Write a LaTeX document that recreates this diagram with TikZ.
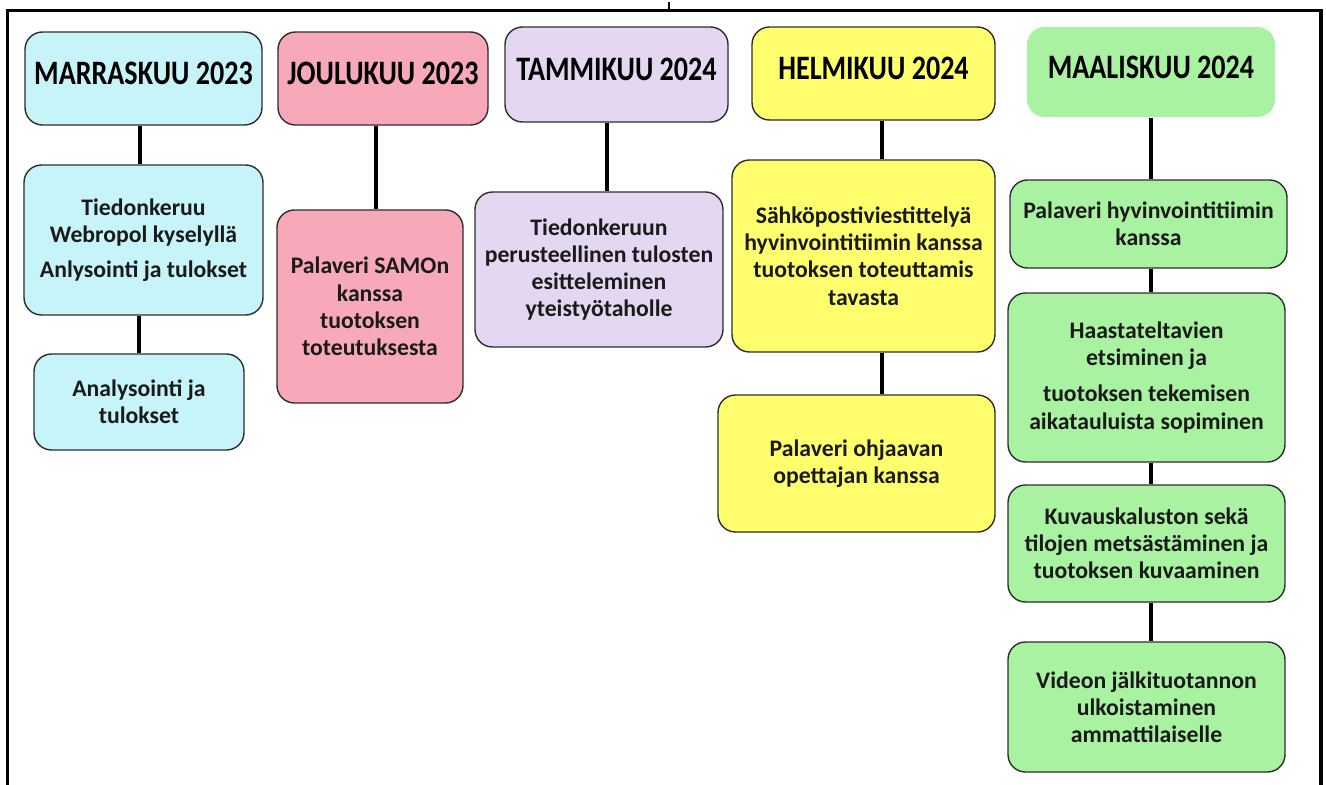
\documentclass[tikz,border=0pt]{standalone}
\usepackage{fontspec}
\setmainfont{Carlito}
\newfontfamily\headfont[FakeStretch=0.82]{Carlito}
\definecolor{novcyan}{HTML}{C6F4F8}
\definecolor{decpink}{HTML}{F7A9BA}
\definecolor{janlilac}{HTML}{E4D7F2}
\definecolor{febyellow}{HTML}{FFFF6E}
\definecolor{margreen}{HTML}{A9F2A1}
\definecolor{boxline}{HTML}{2E2E2E}
\definecolor{txt}{HTML}{1A1A1A}
\tikzset{>=latex}

\begin{document}
\begin{tikzpicture}[scale=1, every node/.style={scale=1}, font=\bfseries\fontsize{13.5}{15.5}\selectfont,
		box/.style={draw=boxline, line width=0.8pt, rounded corners=3.5mm, align=center, text=txt, inner sep=2pt},
		head/.style={box, text=black, text depth=0.2cm, font=\headfont\bfseries\fontsize{19.5}{21}\selectfont},
		link/.style={line width=1.8pt}]
		\useasboundingbox (0,0) rectangle (26.52,-15.7);
		
		% frame
		\draw[line width=1.8pt] (0.15,-15.7) -- (0.15,-0.21) -- (26.42,-0.21) -- (26.42,-15.7);
		\draw[line width=1.2pt] (13.38,-0.04) -- (13.38,-0.21);
		
		% marraskuu
		\node[head, fill=novcyan, minimum width=4.74cm, minimum height=1.86cm] (marA) at (2.87,-1.57) {MARRASKUU 2023};
		\node[box, fill=novcyan, minimum width=4.78cm, minimum height=3cm] (marB) at (2.87,-4.8) {Tiedonkeruu\\ Webropol kyselyllä\\[4pt] Anlysointi ja tulokset};
		\node[box, fill=novcyan, minimum width=4.2cm, minimum height=1.92cm] (marC) at (2.78,-8.04) {Analysointi ja\\ tulokset};
		
		% joulukuu
		\node[head, fill=decpink, minimum width=4.2cm, minimum height=1.86cm] (jouA) at (7.66,-1.57) {JOULUKUU 2023};
		\node[box, fill=decpink, minimum width=3.72cm, minimum height=3.86cm] (jouB) at (7.4,-6.13) {Palaveri SAMOn\\ kanssa\\ tuotoksen\\ toteutuksesta};
		
		% tammikuu
		\node[head, fill=janlilac, minimum width=4.46cm, minimum height=1.9cm] (tamA) at (12.33,-1.49) {TAMMIKUU 2024};
		\node[box, fill=janlilac, minimum width=4.96cm, minimum height=3.1cm] (tamB) at (11.98,-5.39) {Tiedonkeruun\\ perusteellinen tulosten\\ esitteleminen\\ yteistyötaholle};
		
		% helmikuu
		\node[head, fill=febyellow, minimum width=4.86cm, minimum height=1.86cm] (helA) at (17.47,-1.47) {HELMIKUU 2024};
		\node[box, fill=febyellow, minimum width=5.26cm, minimum height=3.84cm] (helB) at (17.27,-5.12) {Sähköpostiviestittelyä\\ hyvinvointitiimin kanssa\\ tuotoksen toteuttamis\\ tavasta};
		\node[box, fill=febyellow, minimum width=5.54cm, minimum height=2.74cm] (helC) at (17.13,-9.27) {Palaveri ohjaavan\\ opettajan kanssa};
		
		% maaliskuu
		\node[head, draw=none, fill=margreen, minimum width=4.96cm, minimum height=1.8cm] (maaA) at (23.02,-1.44) {MAALISKUU 2024};
		\node[box, fill=margreen, minimum width=5.54cm, minimum height=1.76cm] (maaB) at (22.97,-4.48) {Palaveri hyvinvointitiimin\\ kanssa};
		\node[box, fill=margreen, minimum width=5.54cm, minimum height=3.38cm] (maaC) at (22.93,-7.55) {Haastateltavien\\ etsiminen ja\\[5pt] tuotoksen tekemisen\\ aikatauluista sopiminen};
		\node[box, fill=margreen, minimum width=5.54cm, minimum height=2.34cm] (maaD) at (22.93,-10.87) {Kuvauskaluston sekä\\ tilojen metsästäminen ja\\ tuotoksen kuvaaminen};
		\node[box, fill=margreen, minimum width=5.54cm, minimum height=2.6cm] (maaE) at (22.93,-14.14) {Videon jälkituotannon\\ ulkoistaminen\\ ammattilaiselle};
		
		% connectors
		\draw[link] ([xshift=-0.7mm]marA.south) -- ([xshift=-0.7mm]marA.south |- marB.north);
		\draw[link] (marC.north) -- (marC.north |- marB.south);
		\draw[link] ([xshift=-1.4mm]jouA.south) -- ([xshift=-1.4mm]jouA.south |- jouB.north);
		\draw[link] ([xshift=-1.9mm]tamA.south) -- ([xshift=-1.9mm]tamA.south |- tamB.north);
		\draw[link] ([xshift=1.7mm]helA.south) -- ([xshift=1.7mm]helA.south |- helB.north);
		\draw[link] ([xshift=1.7mm]helA.south |- helB.south) -- ([xshift=1.7mm]helA.south |- helC.north);
		\draw[link] (maaA.south) -- (maaA.south |- maaB.north);
		\draw[link] (maaA.south |- maaB.south) -- (maaA.south |- maaC.north);
		\draw[link] (maaA.south |- maaC.south) -- (maaA.south |- maaD.north);
		\draw[link] (maaA.south |- maaD.south) -- (maaA.south |- maaE.north);
	\end{tikzpicture}
\end{document}
